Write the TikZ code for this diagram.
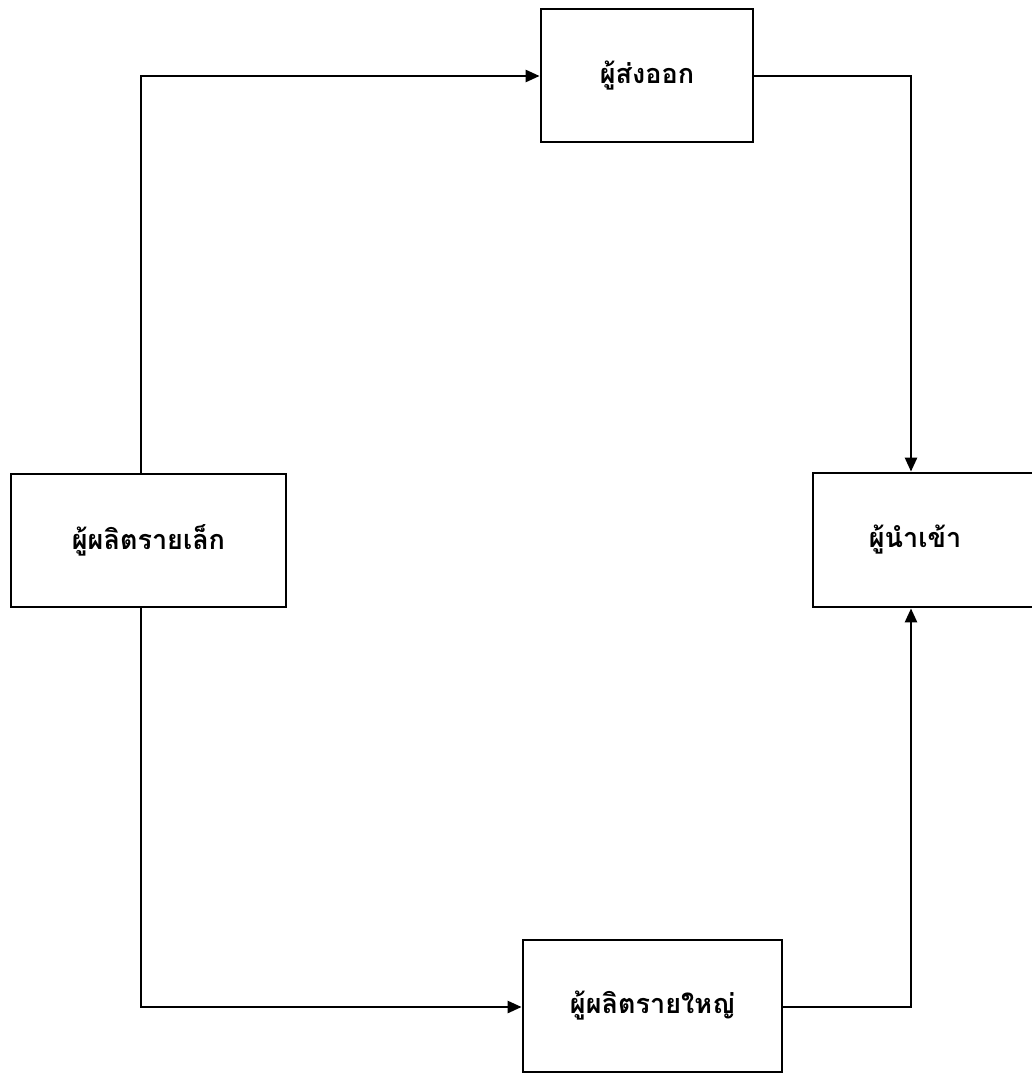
\documentclass[tikz,border=0pt]{standalone}
\usepackage{fontspec}
\newfontfamily\thaifont[Script=Thai]{Loma}
\usetikzlibrary{arrows.meta}
\begin{document}
\begin{tikzpicture}[x=1pt,y=-1pt,
  labelfont/.style={font=\thaifont\bfseries\fontsize{27}{31}\selectfont},
  box/.style={draw, line width=2.8pt, rectangle, inner sep=0pt, labelfont},
  boxtext/.style={labelfont, inner sep=0pt},
  conn/.style={line width=2.6pt, -{Triangle[length=14pt,width=12pt]}}]
\useasboundingbox (0,0) rectangle (1032,1073);
\clip (0,0) rectangle (1032,1073);
\fill[white] (0,0) rectangle (1032,1073);

% the four traders
\node[box, minimum width=212pt, minimum height=133pt] (exp) at (647,75.5) {ผู้ส่งออก};
\node[box, minimum width=275pt, minimum height=133pt] (small) at (148.5,540.5) {ผู้ผลิตรายเล็ก};
\node[box, minimum width=227pt, minimum height=134pt,
      label={[boxtext, xshift=-11.5pt]center:ผู้นำเข้า}] (imp) at (926.5,540) {};
\node[box, minimum width=259pt, minimum height=132pt] (big) at (652.5,1006) {ผู้ผลิตรายใหญ่};

% corners of the routes
\coordinate (tl) at (141,76);
\coordinate (tr) at (911,76);
\coordinate (bl) at (141,1007);
\coordinate (br) at (911,1007);

% flows
\draw[conn] (small.north -| tl) -- (tl) -- (tl -| exp.west);
\draw[conn] (exp.east |- tr) -- (tr) -- (tr |- imp.north);
\draw[conn] (small.south -| bl) -- (bl) -- (bl -| big.west);
\draw[conn] (big.east |- br) -- (br) -- (br |- imp.south);
\end{tikzpicture}
\end{document}
